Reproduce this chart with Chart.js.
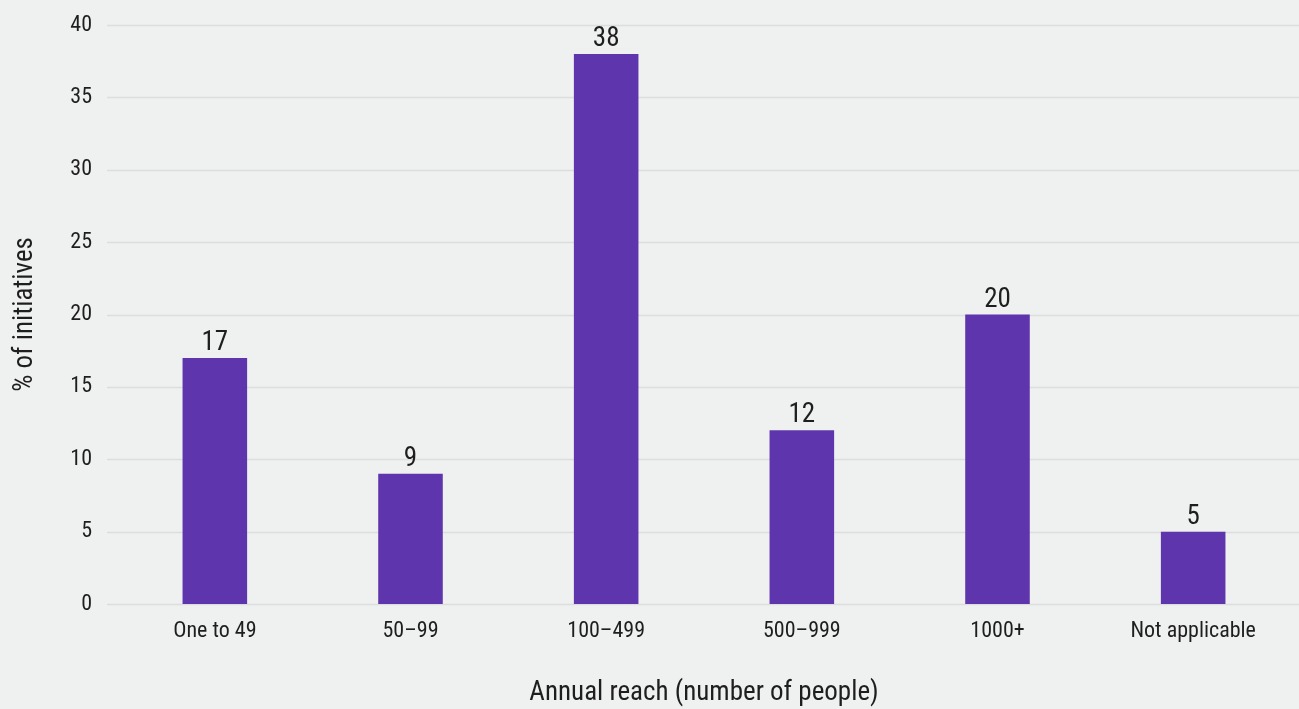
<!DOCTYPE html>
<html>
<head>
<meta charset="utf-8">
<script src="https://cdn.jsdelivr.net/npm/chart.js@4/dist/chart.umd.min.js"></script>
<style>
  html, body { margin: 0; padding: 0; background: #eff1f0; }
  #wrap { width: 1299px; height: 709px; position: relative; }
</style>
</head>
<body>
<div id="wrap"><canvas id="c" width="1299" height="709"></canvas></div>
<script>
// Share of initiatives by annual reach
const categories = ['One to 49', '50–99', '100–499', '500–999', '1000+', 'Not applicable'];
const shares = [17, 9, 38, 12, 20, 5];
const yTicks = [0, 5, 10, 15, 20, 25, 30, 35, 40];

const FONT = '"Liberation Sans Narrow", "Roboto Condensed", "DejaVu Sans Condensed", sans-serif';
const TEXT = '#1e1e1e';
const BAR = '#5f35ad';
const GRID = '#dcdedd';

// Horizontal grid lines running the full width of the panel
const fullGrid = {
  id: 'fullGrid',
  beforeDatasetsDraw(chart) {
    const { ctx, scales: { y } } = chart;
    ctx.save();
    ctx.strokeStyle = GRID;
    ctx.lineWidth = 1.6;
    yTicks.forEach(v => {
      const py = Math.round(y.getPixelForValue(v)) + 0.5;
      ctx.beginPath();
      ctx.moveTo(107, py);
      ctx.lineTo(chart.width, py);
      ctx.stroke();
    });
    ctx.restore();
  }
};

// Value labels above each bar
const valueLabels = {
  id: 'valueLabels',
  afterDatasetsDraw(chart) {
    const { ctx } = chart;
    const meta = chart.getDatasetMeta(0);
    ctx.save();
    ctx.fillStyle = TEXT;
    ctx.font = '27px ' + FONT;
    ctx.textAlign = 'center';
    ctx.textBaseline = 'alphabetic';
    meta.data.forEach((bar, i) => {
      ctx.fillText(String(shares[i]), bar.x, bar.y - 8);
    });
    ctx.restore();
  }
};

new Chart(document.getElementById('c'), {
  type: 'bar',
  data: {
    labels: categories,
    datasets: [{
      data: shares,
      backgroundColor: BAR,
      barPercentage: 0.33,
      categoryPercentage: 1.0
    }]
  },
  options: {
    responsive: false,
    animation: false,
    layout: { padding: { top: 25, right: 8, left: 0, bottom: 0 } },
    plugins: { legend: { display: false }, tooltip: { enabled: false } },
    scales: {
      x: {
        grid: { display: false, drawTicks: false },
        border: { display: false },
        ticks: { color: TEXT, font: { family: FONT, size: 22 }, padding: 14, maxRotation: 0 },
        title: {
          display: true,
          text: 'Annual reach (number of people)',
          color: TEXT,
          font: { family: FONT, size: 27 },
          padding: { top: 10, bottom: 0 }
        },
        afterFit(scale) { scale.height = 105; }
      },
      y: {
        min: 0,
        max: 40,
        afterBuildTicks(scale) { scale.ticks = yTicks.map(v => ({ value: v })); },
        grid: { display: false, drawTicks: false },
        border: { display: false },
        ticks: { color: TEXT, font: { family: FONT, size: 22 }, padding: 25 },
        title: {
          display: true,
          text: '% of initiatives',
          color: TEXT,
          font: { family: FONT, size: 27 },
          padding: { top: 9, bottom: 0 }
        },
        afterFit(scale) {
          scale.width = 117;
          scale.paddingTop = 0;
          scale.paddingBottom = 0;
        }
      }
    }
  },
  plugins: [fullGrid, valueLabels]
});
</script>
</body>
</html>
